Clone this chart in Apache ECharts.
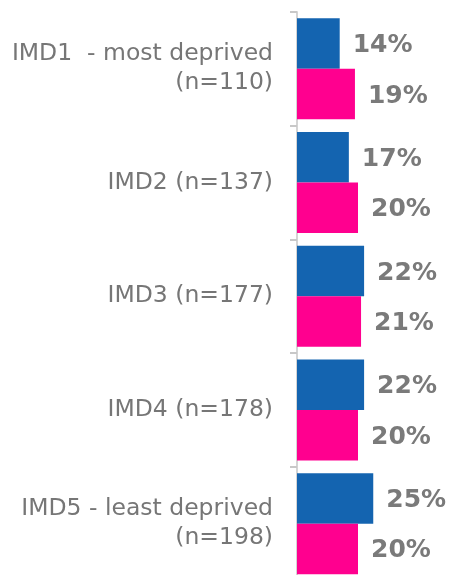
<!DOCTYPE html>
<html>
<head>
<meta charset="utf-8">
<script src="https://cdn.jsdelivr.net/npm/echarts@6/dist/echarts.min.js"></script>
<style>
html,body{margin:0;padding:0;background:#fff;}
#chart{width:452px;height:575px;}
</style>
</head>
<body>
<div id="chart"></div>
<script>
var categories = ['IMD1  - most deprived\n(n=110)', 'IMD2 (n=137)', 'IMD3 (n=177)', 'IMD4 (n=178)', 'IMD5 - least deprived\n(n=198)'];
var seriesA = [14, 17, 22, 22, 25];
var seriesB = [19, 20, 21, 20, 20];

var chart = echarts.init(document.getElementById('chart'));
var labelStyle = {
  show: true,
  position: 'right',
  distance: 13,
  offset: [0, 2],
  formatter: function (p) { return p.value + '%'; },
  fontFamily: 'DejaVu Sans',
  fontWeight: 'bold',
  fontSize: 25,
  color: '#7a7a7a'
};
chart.setOption({
  animation: false,
  backgroundColor: '#ffffff',
  grid: { left: 297, top: 12, width: 152.5, height: 568.5, containLabel: false, outerBoundsMode: 'none' },
  xAxis: { type: 'value', min: 0, max: 50, show: false },
  yAxis: {
    type: 'category',
    data: categories,
    inverse: true,
    axisLine: { show: true, lineStyle: { color: '#d4d4d4', width: 2 } },
    axisTick: { show: true, length: 7, lineStyle: { color: '#c8c8c8', width: 2 } },
    axisLabel: {
      margin: 24,
      fontFamily: 'DejaVu Sans',
      fontSize: 23.5,
      lineHeight: 29,
      color: '#767676',
      align: 'right'
    },
    splitLine: { show: false }
  },
  series: [
    { type: 'bar', data: seriesA, barWidth: 50.5, barGap: '0%', itemStyle: { color: '#1464b0' }, label: labelStyle },
    { type: 'bar', data: seriesB, barWidth: 50.5, barGap: '0%', itemStyle: { color: '#ff008f' }, label: labelStyle }
  ]
});
</script>
</body>
</html>
